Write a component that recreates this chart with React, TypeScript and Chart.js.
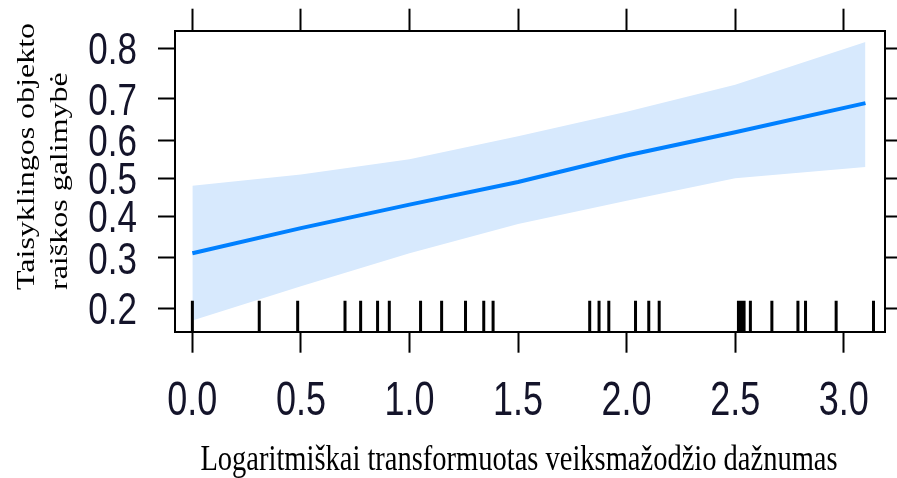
import React, { useEffect, useRef } from 'react';
import { Chart, registerables, Scale } from 'chart.js';

// ---------- data ----------
const xTicks = [0, 0.5, 1.0, 1.5, 2.0, 2.5, 3.0];
const yTicks = [0.2, 0.3, 0.4, 0.5, 0.6, 0.7, 0.8];
const xFit = [0, 0.5, 1.0, 1.5, 2.0, 2.5, 3.1];
const fitValues = [0.31, 0.37, 0.43, 0.49, 0.56, 0.62, 0.69];
const upperValues = [0.48, 0.51, 0.55, 0.61, 0.67, 0.73, 0.81];
const lowerValues = [0.18, 0.24, 0.31, 0.38, 0.44, 0.50, 0.53];
const rugValues = [
  0, 0.308, 0.485, 0.703, 0.775, 0.853, 0.907, 1.051, 1.148, 1.258, 1.342, 1.385,
  1.83, 1.873, 1.918, 2.041, 2.102, 2.15, 2.515, 2.528, 2.541, 2.57, 2.669, 2.789,
  2.824, 2.965, 3.137,
];
const xTitle = 'Logaritmiškai transformuotas veiksmažodžio dažnumas';
const yTitleLines = ['Taisyklingos objekto', 'raiškos galimybė'];

const X_MIN = -0.08;
const X_MAX = 3.19;
const Y_MIN = 0.163;
const Y_MAX = 0.828;

// ---------- logit scale ----------
const logit = (p: number) => Math.log(p / (1 - p));
const expit = (l: number) => 1 / (1 + Math.exp(-l));

class LogitScale extends Scale {
  static id = 'logit';
  static defaults = {};
  _lmin = 0;
  _lmax = 1;
  determineDataLimits() {
    const mm = (this as any).getMinMax(true);
    const o: any = this.options;
    (this as any).min = o.min ?? mm.min;
    (this as any).max = o.max ?? mm.max;
  }
  buildTicks() {
    const o: any = this.options;
    return (o.ticks.values || []).map((v: number) => ({ value: v }));
  }
  getLabelForValue(v: number) {
    return String(v);
  }
  configure() {
    super.configure();
    this._lmin = logit((this as any).min);
    this._lmax = logit((this as any).max);
  }
  getPixelForValue(v: number) {
    return this.getPixelForDecimal((logit(v) - this._lmin) / (this._lmax - this._lmin));
  }
  getValueForPixel(p: number) {
    return expit(this._lmin + this.getDecimalForPixel(p) * (this._lmax - this._lmin));
  }
  getPixelForTick(i: number) {
    return this.getPixelForValue((this as any).ticks[i].value);
  }
}

Chart.register(...registerables, LogitScale as any);

const SANS = "'Liberation Sans', Arial, sans-serif";
const SERIF = "'Liberation Serif', 'Times New Roman', serif";
const LABEL_COLOR = '#14142a';
const STRETCH = 1.28;

const rugPlugin = {
  id: 'rug',
  afterDatasetsDraw(chart: any) {
    const { ctx, chartArea, scales } = chart;
    ctx.save();
    ctx.strokeStyle = '#000';
    ctx.lineWidth = 3;
    ctx.beginPath();
    for (const v of rugValues) {
      const x = scales.x.getPixelForValue(v);
      ctx.moveTo(x, chartArea.bottom);
      ctx.lineTo(x, chartArea.bottom - 31);
    }
    ctx.stroke();
    ctx.restore();
  },
};

// tick labels drawn at the scales' own tick positions (vertically stretched like the source)
const tickLabelPlugin = {
  id: 'tickLabels',
  afterDraw(chart: any) {
    const { ctx, scales } = chart;
    const fmt = (v: number) => v.toFixed(1);
    ctx.save();
    ctx.fillStyle = LABEL_COLOR;
    // y axis
    const ys = scales.y;
    const ySize = 35;
    ctx.font = `${ySize}px ${SANS}`;
    ctx.textAlign = 'right';
    ctx.textBaseline = 'alphabetic';
    for (const t of ys.ticks) {
      const py = ys.getPixelForValue(t.value);
      ctx.save();
      ctx.translate(ys.right - 17 - 21, py);
      ctx.scale(1, STRETCH);
      ctx.fillText(fmt(t.value), 0, (0.716 * ySize) / 2);
      ctx.restore();
    }
    // x axis
    const xs = scales.x;
    const xSize = 36;
    ctx.font = `${xSize}px ${SANS}`;
    ctx.textAlign = 'center';
    for (const t of xs.ticks) {
      const px = xs.getPixelForValue(t.value);
      ctx.save();
      ctx.translate(px, xs.top + 83);
      ctx.scale(1, 1.32);
      ctx.fillText(fmt(t.value), 0, 0);
      ctx.restore();
    }
    ctx.restore();
  },
};

const titlePlugin = {
  id: 'titles',
  afterDraw(chart: any) {
    const { ctx } = chart;
    ctx.save();
    ctx.fillStyle = '#000';
    ctx.font = `28.5px ${SERIF}`;
    ctx.textAlign = 'center';
    ctx.textBaseline = 'alphabetic';
    ctx.translate(519, 470);
    ctx.scale(1, STRETCH);
    ctx.fillText(xTitle, 0, 0);
    ctx.restore();

    const baseXs = [34, 67];
    yTitleLines.forEach((line, i) => {
      ctx.save();
      ctx.fillStyle = '#000';
      ctx.font = `25px ${SERIF}`;
      ctx.textAlign = 'left';
      ctx.textBaseline = 'alphabetic';
      ctx.translate(baseXs[i], 290);
      ctx.rotate(-Math.PI / 2);
      ctx.scale(STRETCH, 1);
      ctx.fillText(line, 0, 0);
      ctx.restore();
    });
  },
};

const setTicks = (vals: number[]) => (s: any) => {
  s.ticks = vals.map((v) => ({ value: v }));
};
const fixSize = (dim: 'width' | 'height', val: number) => (s: any) => {
  s[dim] = val;
  s.paddingTop = 0;
  s.paddingBottom = 0;
  s.paddingLeft = 0;
  s.paddingRight = 0;
};

const gridOpts = (len: number) => ({
  drawOnChartArea: false,
  drawTicks: true,
  tickLength: len,
  tickWidth: 2,
  tickColor: '#000',
});
const borderOpts = { display: true, color: '#000', width: 2 };

export default function App() {
  const ref = useRef<HTMLCanvasElement | null>(null);
  useEffect(() => {
    if (!ref.current) return;
    const pts = (ys: number[]) => xFit.map((x, i) => ({ x, y: ys[i] }));
    const chart = new Chart(ref.current, {
      type: 'line',
      data: {
        datasets: [
          {
            data: pts(fitValues),
            borderColor: 'rgb(0,128,255)',
            borderWidth: 4,
            pointRadius: 0,
            fill: false,
            tension: 0,
            borderCapStyle: 'butt',
          },
          {
            data: pts(upperValues),
            borderWidth: 0,
            borderColor: 'rgba(0,0,0,0)',
            pointRadius: 0,
            backgroundColor: 'rgb(215,233,253)',
            fill: '+1',
            tension: 0,
          },
          {
            data: pts(lowerValues),
            borderWidth: 0,
            borderColor: 'rgba(0,0,0,0)',
            pointRadius: 0,
            fill: false,
            tension: 0,
          },
        ],
      },
      options: {
        responsive: false,
        maintainAspectRatio: false,
        animation: false,
        layout: { padding: 0 },
        plugins: {
          legend: { display: false },
          tooltip: { enabled: false },
        },
        scales: {
          x: {
            type: 'linear',
            position: 'bottom',
            min: X_MIN,
            max: X_MAX,
            afterBuildTicks: setTicks(xTicks),
            afterFit: fixSize('height', 146.3),
            grid: gridOpts(21),
            border: borderOpts,
            ticks: { display: false },
          },
          x2: {
            type: 'linear',
            position: 'top',
            min: X_MIN,
            max: X_MAX,
            afterBuildTicks: setTicks(xTicks),
            afterFit: fixSize('height', 30.7),
            grid: gridOpts(22),
            border: borderOpts,
            ticks: { display: false },
          },
          y: {
            type: 'logit' as any,
            position: 'left',
            min: Y_MIN,
            max: Y_MAX,
            afterFit: fixSize('width', 175),
            grid: gridOpts(17),
            border: borderOpts,
            ticks: { values: yTicks, display: false } as any,
          },
          y2: {
            type: 'logit' as any,
            position: 'right',
            min: Y_MIN,
            max: Y_MAX,
            afterFit: fixSize('width', 12),
            grid: gridOpts(17),
            border: borderOpts,
            ticks: { values: yTicks, display: false } as any,
          },
        } as any,
      },
      plugins: [rugPlugin, tickLabelPlugin, titlePlugin],
    } as any);
    return () => chart.destroy();
  }, []);

  return (
    <div style={{ position: 'absolute', left: 0, top: 0, width: 897, height: 478, background: '#fff' }}>
      <canvas ref={ref} width={897} height={478} style={{ display: 'block', width: 897, height: 478 }} />
    </div>
  );
}
